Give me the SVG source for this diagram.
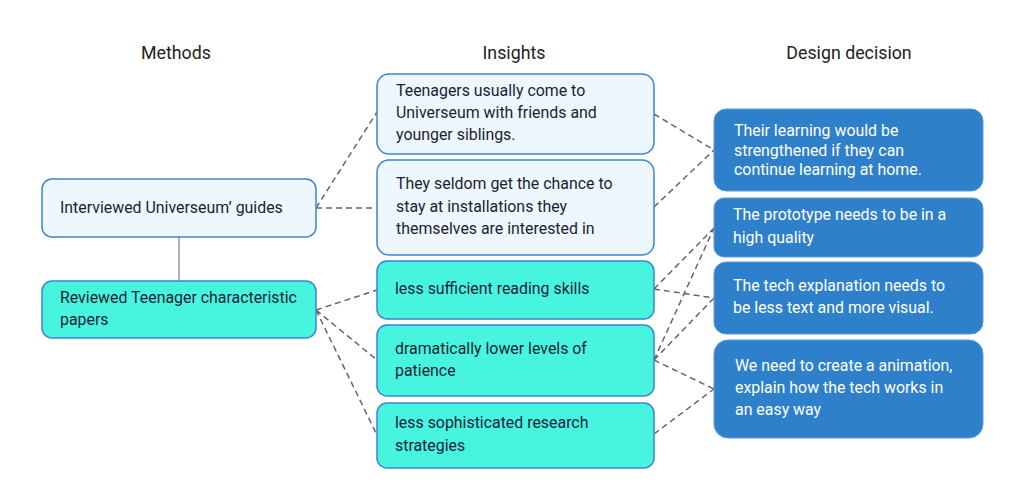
<svg xmlns="http://www.w3.org/2000/svg" width="1033" height="492" viewBox="0 0 1033 492">
<style>
text{font-family:Roboto,"Liberation Sans",sans-serif;font-size:15.9px;fill:#1a1f36}
.h{font-size:17.8px;fill:#222;text-anchor:middle}
.l{fill:#eef6fe;stroke:#3a86d4;stroke-width:1.5}
.t{fill:#47f4de;stroke:#3a86d4;stroke-width:1.5}
.d{fill:#2f80cb;stroke:#5a9bdb;stroke-width:1}
.w{fill:#fff}
.c{stroke:#666;stroke-width:1.5;stroke-dasharray:6 4;fill:none}
</style>
<rect width="1033" height="492" fill="#fff"/>
<text class="h" x="176" y="59">Methods</text>
<text class="h" x="514" y="59">Insights</text>
<text class="h" x="849" y="59">Design decision</text>
<g id="connectors">
<line x1="179" y1="237" x2="179" y2="281" stroke="#999" stroke-width="1.5"/>
<path class="c" d="M316 208L377 112M316 208L377 208M316 310L377 290M316 310L377 360M316 310L377 435M654 114L714 150M654 207L714 150M654 289L714 228M654 289L714 298M654 360L714 228M654 360L714 298M654 360L714 389M654 434L714 389"/>
</g>
<g id="m1"><rect class="l" x="42" y="179" width="274" height="58" rx="10"/><text x="60" y="213">Interviewed Universeum’ guides</text></g>
<g id="m2"><rect class="t" x="42" y="281" width="274" height="57" rx="10"/><text x="60" y="303">Reviewed Teenager characteristic</text><text x="60" y="325">papers</text></g>
<g id="i1"><rect class="l" x="377" y="74" width="277" height="80" rx="12"/><text x="396" y="96">Teenagers usually come to</text><text x="396" y="118">Universeum with friends and</text><text x="396" y="140">younger siblings.</text></g>
<g id="i2"><rect class="l" x="377" y="160" width="277" height="95" rx="12"/><text x="396" y="189">They seldom get the chance to</text><text x="396" y="212">stay at installations they</text><text x="396" y="234">themselves are interested in</text></g>
<g id="i3"><rect class="t" x="377" y="261" width="277" height="58" rx="10"/><text x="395" y="294">less sufficient reading skills</text></g>
<g id="i4"><rect class="t" x="377" y="325" width="277" height="71" rx="10"/><text x="395" y="354">dramatically lower levels of</text><text x="395" y="376">patience</text></g>
<g id="i5"><rect class="t" x="377" y="403" width="277" height="65" rx="10"/><text x="395" y="428">less sophisticated research</text><text x="395" y="451">strategies</text></g>
<g id="d1"><rect class="d" x="714" y="109" width="269" height="82" rx="12"/><text class="w" x="734" y="136">Their learning would be</text><text class="w" x="734" y="156">strengthened if they can</text><text class="w" x="734" y="175">continue learning at home.</text></g>
<g id="d2"><rect class="d" x="714" y="198" width="269" height="59" rx="10"/><text class="w" x="733" y="220">The prototype needs to be in a</text><text class="w" x="733" y="243">high quality</text></g>
<g id="d3"><rect class="d" x="714" y="262" width="269" height="72" rx="12"/><text class="w" x="733" y="291">The tech explanation needs to</text><text class="w" x="733" y="313">be less text and more visual.</text></g>
<g id="d4"><rect class="d" x="714" y="340" width="269" height="98" rx="14"/><text class="w" x="735" y="371">We need to create a animation,</text><text class="w" x="735" y="393">explain how the tech works in</text><text class="w" x="735" y="415">an easy way</text></g>
</svg>
